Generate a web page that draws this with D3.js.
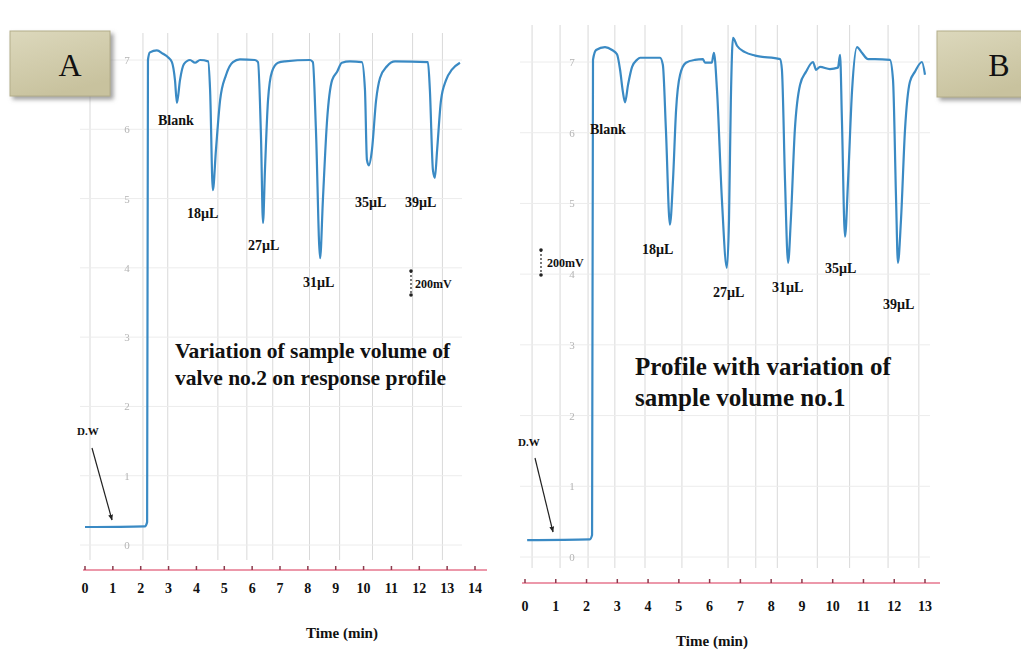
<!DOCTYPE html>
<html>
<head>
<meta charset="utf-8">
<script src="https://cdn.jsdelivr.net/npm/d3@7"></script>
<style>
  html, body { margin: 0; padding: 0; background: #fff; }
  svg { display: block; }
  text { font-family: "Liberation Serif", "Times New Roman", "DejaVu Serif", serif; font-weight: bold; }
</style>
</head>
<body>
<svg id="chart" width="1021" height="650"></svg>
<script>
// ---- Detector response, panel A (valve no.2): time in min, signal in chart units
const timeA = [0, 2.15, 2.23, 2.26, 2.33, 2.58, 2.80, 2.98, 3.12, 3.23, 3.30, 3.41, 3.55, 3.77, 3.95, 4.13,
  4.42, 4.49, 4.59, 4.70, 4.85, 5.06, 5.31, 5.56, 6.10, 6.21, 6.32, 6.39, 6.46, 6.57, 6.71, 6.93, 7.18,
  8.08, 8.18, 8.29, 8.44, 8.54, 8.69, 8.87, 9.05, 9.22, 9.51, 9.94, 10.05, 10.12, 10.19, 10.30, 10.45,
  10.59, 10.84, 11.13, 12.31, 12.38, 12.49, 12.56, 12.64, 12.78, 12.96, 13.17, 13.46];
const signalA = [0.26, 0.27, 0.33, 7.00, 7.11, 7.14, 7.09, 7.04, 6.97, 6.71, 6.38, 6.71, 6.94, 7.00, 6.96, 7.00,
  6.98, 6.57, 5.12, 5.70, 6.42, 6.78, 6.97, 7.01, 7.00, 6.97, 5.85, 4.65, 5.41, 6.42, 6.83, 6.96, 6.98,
  7.00, 6.97, 5.99, 4.14, 4.98, 6.13, 6.71, 6.83, 6.96, 6.98, 6.97, 6.57, 5.56, 5.48, 5.70, 6.42,
  6.74, 6.91, 6.98, 6.97, 6.57, 5.41, 5.30, 5.70, 6.42, 6.71, 6.86, 6.96];

// ---- Detector response, panel B (sample volume no.1)
const timeB = [0.07, 2.11, 2.18, 2.21, 2.31, 2.60, 2.83, 2.99, 3.09, 3.18, 3.25, 3.35, 3.48, 3.64, 3.74, 4.39,
  4.48, 4.58, 4.71, 4.81, 4.91, 5.04, 5.23, 5.52, 5.78, 5.85, 6.07, 6.14, 6.24, 6.40, 6.56, 6.63, 6.69,
  6.76, 6.89, 7.15, 7.48, 8.29, 8.35, 8.45, 8.55, 8.64, 8.77, 8.94, 9.13, 9.36, 9.46, 9.59, 9.91, 10.17,
  10.24, 10.30, 10.40, 10.50, 10.63, 10.79, 10.95, 11.15, 11.37, 11.86, 11.96, 12.06, 12.12, 12.22,
  12.35, 12.51, 12.67, 12.90, 13.00];
const signalB = [0.24, 0.25, 0.31, 7.03, 7.17, 7.21, 7.17, 7.11, 6.89, 6.58, 6.43, 6.68, 6.93, 7.03, 7.06, 7.06,
  6.96, 6.04, 4.70, 5.33, 6.32, 6.82, 6.99, 7.03, 7.04, 6.99, 6.99, 7.13, 6.60, 5.05, 4.09, 4.77, 6.46,
  7.34, 7.23, 7.14, 7.09, 7.04, 6.89, 5.33, 4.16, 4.77, 6.04, 6.68, 6.86, 7.00, 6.89, 6.93, 6.90, 6.92,
  7.10, 6.18, 4.53, 5.33, 6.60, 7.21, 7.13, 7.04, 7.04, 7.03, 6.75, 5.05, 4.16, 4.77,
  6.04, 6.72, 6.86, 7.00, 6.82];

const peakNames = ["Blank", "18µL", "27µL", "31µL", "35µL", "39µL"];
const timeTicksA = d3.range(0, 15);
const timeTicksB = d3.range(0, 14);
const levelTicks = d3.range(0, 8);
// chart-paper rulings (minutes)
const paperLinesA = [0.18, 2.08, 2.97, 4.77, 5.81, 6.74, 8.06, 9.14, 10.32, 11.76, 12.83];
const paperLinesB = [0.23, 1.14, 2.05, 2.92, 3.9, 5.1, 6.6, 7.5, 8.2, 9.5, 10.55, 11.8, 12.8];
const titleA = ["Variation of sample volume of", "valve no.2 on response profile"];
const titleB = ["Profile with variation of", "sample volume no.1"];
const scaleText = "200mV";
const waterText = "D.W";
const axisTitle = "Time (min)";

// ---- layout of the two panels
const panels = [
  {
    letter: "A", time: timeA, signal: signalA, ticks: timeTicksA, paper: paperLinesA, title: titleA,
    xRange: [85, 475], tMax: 14, yRange: [545, 60],
    axisY: 570, tickLabelY: 593, axisTitlePos: [342, 638], axisExtent: [83, 487],
    gridTop: 33, gridBottom: 560, gridX: [80, 462], levelLabelX: 127,
    box: [10, 31, 100, 65],
    peakLabels: [[158, 125], [187, 218], [248, 250], [303, 287], [355, 207], [405, 207]],
    titlePos: [175, 358], titleLH: 27, titleSize: 21.5,
    bar: { x: 411, y0: 271, y1: 295, tx: 415, ty: 288 },
    water: { tx: 77, ty: 435, from: [92, 448], to: [112, 520] }
  },
  {
    letter: "B", time: timeB, signal: signalB, ticks: timeTicksB, paper: paperLinesB, title: titleB,
    xRange: [525, 925], tMax: 13, yRange: [557, 62],
    axisY: 583, tickLabelY: 611, axisTitlePos: [712, 646], axisExtent: [522, 940],
    gridTop: 25, gridBottom: 568, gridX: [520, 930], levelLabelX: 572,
    box: [937, 31, 100, 66],
    peakLabels: [[590, 134], [642, 254], [713, 297], [772, 292], [825, 273], [883, 309]],
    titlePos: [635, 375], titleLH: 31, titleSize: 25,
    bar: { x: 541, y0: 250, y1: 275, tx: 547, ty: 267 },
    water: { tx: 518, ty: 446, from: [535, 458], to: [553, 532] }
  }
];

const svg = d3.select("#chart");
const defs = svg.append("defs");

defs.append("filter").attr("id", "soft")
  .append("feGaussianBlur").attr("stdDeviation", 0.6);

const shadow = defs.append("filter").attr("id", "boxShadow")
  .attr("x", "-20%").attr("y", "-20%").attr("width", "150%").attr("height", "160%");
shadow.append("feDropShadow").attr("dx", 3).attr("dy", 3).attr("stdDeviation", 2)
  .attr("flood-color", "#777").attr("flood-opacity", 0.7);

const grad = defs.append("linearGradient").attr("id", "boxFill")
  .attr("x1", "0").attr("y1", "0").attr("x2", "0.4").attr("y2", "1");
grad.append("stop").attr("offset", "0%").attr("stop-color", "#dcd8bc");
grad.append("stop").attr("offset", "100%").attr("stop-color", "#c8c29e");

defs.append("marker").attr("id", "arrowHead")
  .attr("viewBox", "0 0 10 10").attr("refX", 9).attr("refY", 5)
  .attr("markerWidth", 5).attr("markerHeight", 5).attr("orient", "auto")
  .append("path").attr("d", "M0,1 L10,5 L0,9 Z").attr("fill", "#222");

panels.forEach(p => {
  const x = d3.scaleLinear().domain([0, p.tMax]).range(p.xRange);
  const y = d3.scaleLinear().domain([0, 7]).range(p.yRange);
  const g = svg.append("g");

  // chart-paper grid
  g.append("g").selectAll("line").data(p.paper).join("line")
    .attr("x1", d => x(d)).attr("x2", d => x(d))
    .attr("y1", p.gridTop).attr("y2", p.gridBottom)
    .attr("stroke", "#d9d9d9").attr("stroke-width", 1);
  g.append("g").selectAll("line").data(levelTicks).join("line")
    .attr("x1", p.gridX[0]).attr("x2", p.gridX[1])
    .attr("y1", d => y(d)).attr("y2", d => y(d))
    .attr("stroke", "#ececec").attr("stroke-width", 1);

  // faint level numbers printed on the paper
  g.append("g").attr("filter", "url(#soft)")
    .selectAll("text").data(levelTicks).join("text")
    .attr("x", p.levelLabelX).attr("y", d => y(d) + 4)
    .attr("text-anchor", "middle").attr("font-size", 11)
    .attr("fill", "#b4b4b4").style("font-weight", "normal")
    .text(d => d);

  // time axis (recorder marker line)
  const axisG = g.append("g").attr("transform", `translate(0,${p.axisY})`);
  axisG.append("line").attr("x1", p.axisExtent[0]).attr("x2", p.axisExtent[1])
    .attr("stroke", "#e6768e").attr("stroke-width", 1.4);
  axisG.selectAll("line.tick").data(p.ticks).join("line").attr("class", "tick")
    .attr("x1", d => x(d)).attr("x2", d => x(d)).attr("y1", -4).attr("y2", 0)
    .attr("stroke", "#8b3a4c").attr("stroke-width", 1.5);
  g.append("g").selectAll("text").data(p.ticks).join("text")
    .attr("x", d => x(d)).attr("y", p.tickLabelY)
    .attr("text-anchor", "middle").attr("font-size", 14).attr("fill", "#111")
    .text(d => d);
  g.append("text").attr("x", p.axisTitlePos[0]).attr("y", p.axisTitlePos[1])
    .attr("text-anchor", "middle").attr("font-size", 15).attr("fill", "#111")
    .text(axisTitle);

  // response trace
  const pts = p.time.map((t, i) => [t, p.signal[i]]);
  const line = d3.line().x(d => x(d[0])).y(d => y(d[1])).curve(d3.curveMonotoneX);
  g.append("path").datum(pts).attr("d", line)
    .attr("fill", "none").attr("stroke", "#3a8ac4").attr("stroke-width", 2.2)
    .attr("stroke-linejoin", "round");

  // peak labels
  g.append("g").selectAll("text").data(peakNames).join("text")
    .attr("x", (d, i) => p.peakLabels[i][0]).attr("y", (d, i) => p.peakLabels[i][1])
    .attr("font-size", 14).attr("fill", "#111")
    .text(d => d);

  // panel title
  g.append("g").selectAll("text").data(p.title).join("text")
    .attr("x", p.titlePos[0]).attr("y", (d, i) => p.titlePos[1] + i * p.titleLH)
    .attr("font-size", p.titleSize).attr("fill", "#111")
    .text(d => d);

  // 200 mV scale bar
  g.append("line").attr("x1", p.bar.x).attr("x2", p.bar.x)
    .attr("y1", p.bar.y0).attr("y2", p.bar.y1)
    .attr("stroke", "#222").attr("stroke-width", 1.2).attr("stroke-dasharray", "2,2");
  g.append("g").selectAll("circle").data([p.bar.y0, p.bar.y1]).join("circle")
    .attr("cx", p.bar.x).attr("cy", d => d).attr("r", 1.8).attr("fill", "#222");
  g.append("text").attr("x", p.bar.tx).attr("y", p.bar.ty)
    .attr("font-size", 12).attr("fill", "#111").text(scaleText);

  // distilled water annotation
  g.append("text").attr("x", p.water.tx).attr("y", p.water.ty)
    .attr("font-size", 11).attr("fill", "#111").text(waterText);
  g.append("line").attr("x1", p.water.from[0]).attr("y1", p.water.from[1])
    .attr("x2", p.water.to[0]).attr("y2", p.water.to[1])
    .attr("stroke", "#222").attr("stroke-width", 1.2).attr("marker-end", "url(#arrowHead)");

  // panel letter box
  const [bx, by, bw, bh] = p.box;
  g.append("rect").attr("x", bx).attr("y", by).attr("width", bw).attr("height", bh)
    .attr("fill", "url(#boxFill)").attr("stroke", "#b3ad8a").attr("stroke-width", 1)
    .attr("filter", "url(#boxShadow)");
  g.append("text").attr("x", p.letter === "A" ? bx + 60 : bx + 62).attr("y", by + 45)
    .attr("text-anchor", "middle").attr("font-size", 32).attr("fill", "#111")
    .style("font-weight", "normal").text(p.letter);
});
</script>
</body>
</html>
